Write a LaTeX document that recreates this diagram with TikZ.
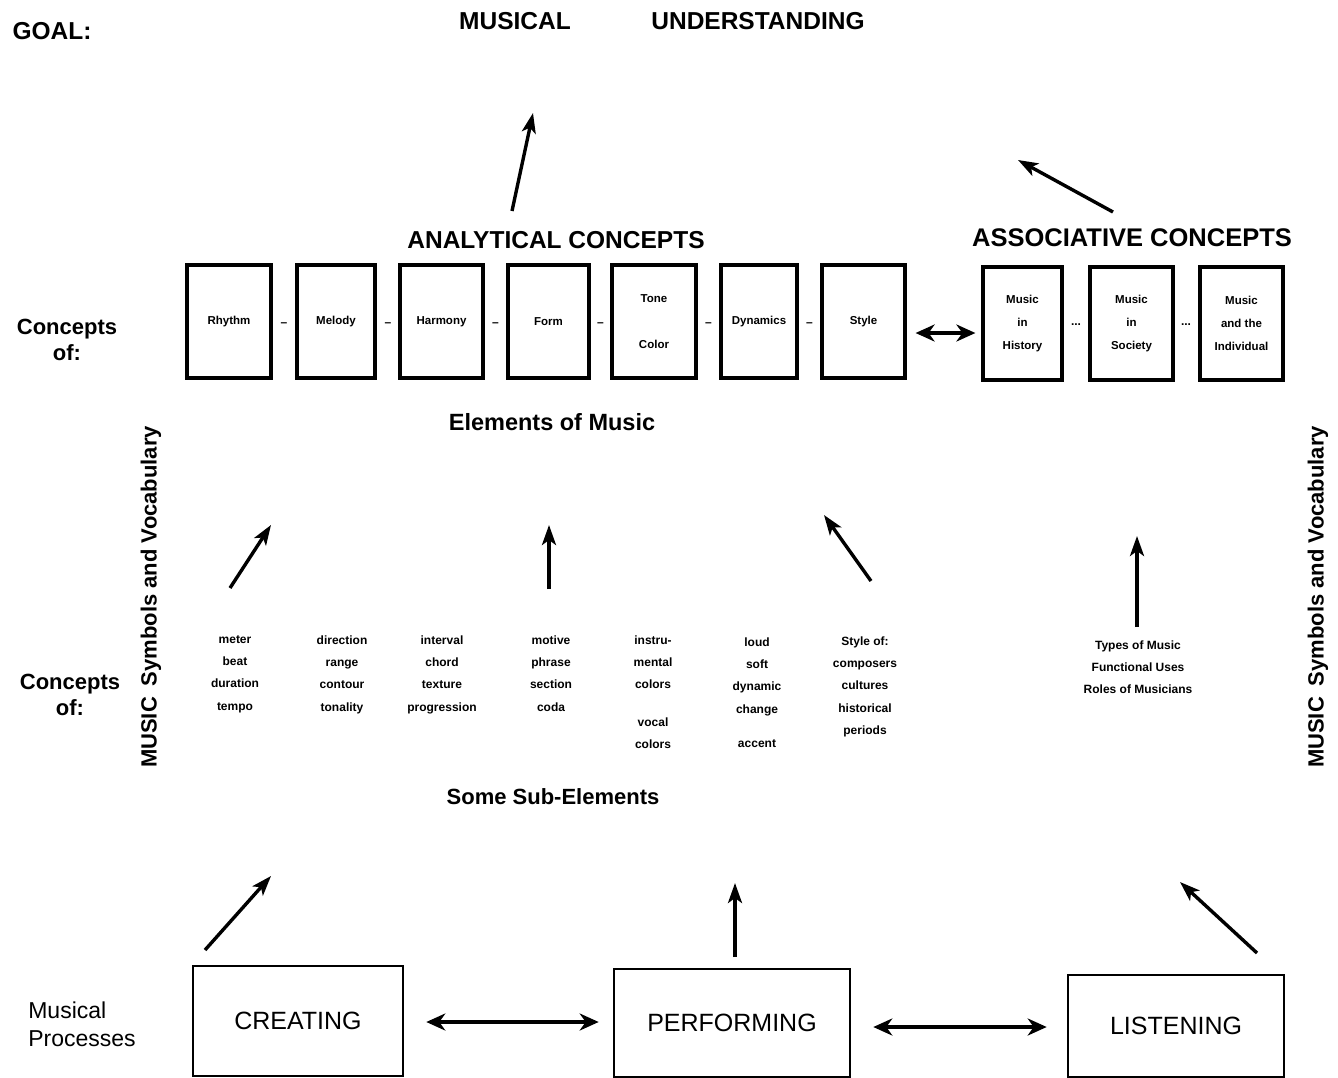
\documentclass[tikz,border=0pt]{standalone}
\usepackage{fontspec}
\setmainfont{Liberation Sans}
\usetikzlibrary{arrows.meta}
\begin{document}
\begin{tikzpicture}[x=1pt,y=-1pt,
  topbox/.style={draw,line width=3.2pt,minimum height=113pt,inner sep=0pt,align=center,font=\fontsize{11.5}{23}\selectfont\bfseries},
  procbox/.style={draw,line width=2.6pt,inner sep=0pt,font=\fontsize{25}{28}\selectfont},
  head/.style={font=\fontsize{24.5}{28}\selectfont\bfseries},
  side/.style={font=\fontsize{22}{26}\selectfont\bfseries,align=center},
  small/.style={font=\fontsize{12}{22.3}\selectfont\bfseries,align=center,anchor=north},
  sep/.style={font=\fontsize{12}{14}\selectfont\bfseries},
  up/.style={-{Stealth[length=20pt,width=14pt,inset=5pt]},line width=3.4pt},
  both/.style={{Stealth[length=19pt,width=17pt,inset=6pt]}-{Stealth[length=19pt,width=17pt,inset=6pt]},line width=3.4pt}
]
\useasboundingbox (0,0) rectangle (1338,1077);

% top labels
\node[head] (goal) at (52,31) {GOAL:};
\node[head] (musical) at (515,21) {MUSICAL};
\node[head] (underst) at (758,21) {UNDERSTANDING};
\node[head] (anal) at (556,240) {ANALYTICAL CONCEPTS};
\node[head,font=\fontsize{25.5}{28}\selectfont\bfseries] (assoc) at (1132,238) {ASSOCIATIVE CONCEPTS};

% arrows to goal
\coordinate (a1s) at (512,211); \coordinate (a1e) at (533,113);
\draw[up] (a1s) -- (a1e);
\coordinate (a2s) at (1113,212); \coordinate (a2e) at (1018,160);
\draw[up] (a2s) -- (a2e);

% concept boxes
\node[topbox,minimum width=84pt] (rhythm) at (229,321.5) {Rhythm};
\node[topbox,minimum width=78pt] (melody) at (336,321.5) {Melody};
\node[topbox,minimum width=83pt] (harmony) at (441.5,321.5) {Harmony};
\node[topbox,minimum width=81pt] (form) at (548.5,321.5) {Form};
\node[topbox,minimum width=84pt] (tone) at (654,321.5) {Tone\\[23pt]Color};
\node[topbox,minimum width=76pt] (dyn) at (759,321.5) {Dynamics};
\node[topbox,minimum width=83pt] (style) at (863.5,321.5) {Style};
\node[topbox,minimum width=79pt] (hist) at (1022.5,323.5) {Music\\in\\History};
\node[topbox,minimum width=83pt] (soc) at (1131.5,323.5) {Music\\in\\Society};
\node[topbox,minimum width=83pt] (indiv) at (1241.5,323.5) {Music\\and the\\Individual};

\node[sep] (d1) at (284,325) {–};
\node[sep] (d2) at (388,325) {–};
\node[sep] (d3) at (495.5,325) {–};
\node[sep] (d4) at (600.5,325) {–};
\node[sep] (d5) at (708.5,325) {–};
\node[sep] (d6) at (809.5,325) {–};
\node[sep] (e1) at (1076,325) {...};
\node[sep] (e2) at (1186,325) {...};

\draw[both,shorten <=9pt,shorten >=6pt] (style.east |- 0,333) -- (hist.west |- 0,333);

% left labels
\node[side] (conc1) at (67,340) {Concepts\\of:};
\node[side] (conc2) at (70,695) {Concepts\\of:};
\node[side,font=\fontsize{23}{28}\selectfont,align=left] (proc) at (82,1024) {Musical\\Processes};

\node[side,rotate=90] (vocL) at (151,597) {MUSIC\enspace Symbols and Vocabulary};
\node[side,rotate=90] (vocR) at (1318,597) {MUSIC\enspace Symbols and Vocabulary};

\node[head,font=\fontsize{23.5}{28}\selectfont\bfseries] (elem) at (552,422) {Elements of Music};
\node[head,font=\fontsize{22}{26}\selectfont\bfseries] (subel) at (553,797) {Some Sub-Elements};

% middle arrows
\coordinate (m1s) at (230,588); \coordinate (m1e) at (271,525);
\draw[up] (m1s) -- (m1e);
\coordinate (m2s) at (549,589); \coordinate (m2e) at (549,525);
\draw[up] (m2s) -- (m2e);
\coordinate (m3s) at (871,581); \coordinate (m3e) at (824,515);
\draw[up] (m3s) -- (m3e);
\coordinate (m4s) at (1137,627); \coordinate (m4e) at (1137,536);
\draw[up] (m4s) -- (m4e);

% sub-elements
\node[small] (s1) at (235,632) {meter\\beat\\duration\\tempo};
\node[small] (s2) at (342,632) {direction\\range\\contour\\tonality};
\node[small] (s3) at (442,632) {interval\\chord\\texture\\progression};
\node[small] (s4) at (551,632) {motive\\phrase\\section\\coda};
\node[small] (s5) at (653,632) {instru-\\mental\\colors\\[15pt]vocal\\colors};
\node[small] (s6) at (757,634) {loud\\soft\\dynamic\\change\\[12pt]accent};
\node[small] (s7) at (865,633) {Style of:\\composers\\cultures\\historical\\periods};
\node[small] (s8) at (1138,637) {Types of Music\\Functional Uses\\Roles of Musicians};

% bottom arrows
\coordinate (b1s) at (205,950); \coordinate (b1e) at (271,876);
\draw[up] (b1s) -- (b1e);
\coordinate (b2s) at (735,957); \coordinate (b2e) at (735,883);
\draw[up] (b2s) -- (b2e);
\coordinate (b3s) at (1257,953); \coordinate (b3e) at (1180,882);
\draw[up] (b3s) -- (b3e);

% process boxes
\node[procbox,minimum width=210pt,minimum height=110pt] (create) at (298,1021) {CREATING};
\node[procbox,minimum width=236pt,minimum height=108pt] (perform) at (732,1023) {PERFORMING};
\node[procbox,minimum width=216pt,minimum height=102pt] (listen) at (1176,1026) {LISTENING};

\draw[both,shorten <=22pt,shorten >=14pt] (create.east |- 0,1022) -- (perform.west |- 0,1022);
\draw[both,shorten <=22pt,shorten >=20pt] (perform.east |- 0,1027) -- (listen.west |- 0,1027);
\end{tikzpicture}
\end{document}
